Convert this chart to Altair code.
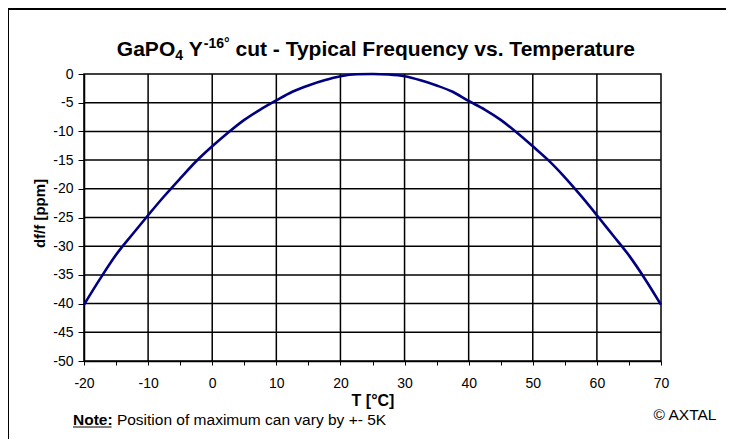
import altair as alt
import pandas as pd

# ---- data ----
temps = [-20, -17.5, -15, -12.5, -10, -7.5, -5, -2.5, 0, 2.5, 5, 7.5, 10, 12.5, 15, 17.5,
         20, 22.5, 25, 27.5, 30, 32.5, 35, 37.5, 40, 42.5, 45, 47.5, 50, 52.5, 55, 57.5,
         60, 62.5, 65, 67.5, 70]
dff = [-40.2, -35.7, -31.5, -28.0, -24.6, -21.3, -18.2, -15.2, -12.6, -10.2, -8.0, -6.2,
       -4.6, -3.1, -2.0, -1.1, -0.4, -0.05, 0.0, -0.1, -0.4, -1.1, -2.0, -3.1, -4.7, -6.2,
       -8.0, -10.2, -12.6, -15.1, -18.0, -21.2, -24.6, -28.1, -31.6, -35.7, -40.2]

x_ticks = [-20, -15, -10, -5, 0, 5, 10, 15, 20, 25, 30, 35, 40, 45, 50, 55, 60, 65, 70]
y_ticks = [0, -5, -10, -15, -20, -25, -30, -35, -40, -45, -50]
x_grid = [-10, 0, 10, 20, 30, 40, 50, 60]
y_grid = [-5, -10, -15, -20, -25, -30, -35, -40, -45]

title_parts = ["GaPO", "4", "Y", "-16°", "cut - Typical Frequency vs. Temperature"]
note_bold = "Note:"
note_text = "Position of maximum can vary by +- 5K"
credit = "© AXTAL"
x_title = "T [°C]"
y_title = "df/f [ppm]"

FONT = "Liberation Sans"
W, H = 577, 287

df = pd.DataFrame({"T": temps, "dff": dff})
xs = alt.Scale(domain=[-20, 70], nice=False, zero=False)
ys = alt.Scale(domain=[-50, 0], nice=False, zero=False)

x_axis = alt.Axis(
    values=x_ticks, labelExpr="datum.value % 10 === 0 ? '' + datum.value : ''",
    grid=False, tickSize=4, tickColor="black", tickWidth=1, domainColor="black", domainWidth=1.5,
    labelFont=FONT, labelFontSize=14, labelColor="black", labelPadding=11, labelFlush=False,
    labelOverlap=False, title=x_title, titleFont=FONT, titleFontSize=16, titleFontWeight="bold",
    titleColor="black", titleY=44, titleBaseline="alphabetic")
y_axis = alt.Axis(
    values=y_ticks, labelExpr="'' + datum.value",
    grid=False, tickSize=6, tickColor="black", tickWidth=1, domainColor="black", domainWidth=1.5,
    labelFont=FONT, labelFontSize=14, labelColor="black", labelPadding=5, labelFlush=False,
    labelOverlap=False, title=y_title, titleFont=FONT, titleFontSize=15, titleFontWeight="bold",
    titleColor="black", titleX=-45, titleY=139, titleBaseline="middle", titleAlign="center",
    titleAngle=270)

vgrid = alt.Chart(pd.DataFrame({"T": x_grid})).mark_rule(color="black", strokeWidth=1.5).encode(
    x=alt.X("T:Q", scale=xs, axis=x_axis))
hgrid = alt.Chart(pd.DataFrame({"dff": y_grid})).mark_rule(color="black", strokeWidth=1.5).encode(
    y=alt.Y("dff:Q", scale=ys, axis=y_axis))

curve = alt.Chart(df).mark_line(color="#000080", strokeWidth=2.6, interpolate="monotone").encode(
    x=alt.X("T:Q", scale=xs, axis=x_axis),
    y=alt.Y("dff:Q", scale=ys, axis=y_axis),
)

def txt(s, x, y, size, weight="normal", align="left", baseline="alphabetic"):
    return alt.Chart(pd.DataFrame({"s": [s]})).mark_text(
        font=FONT, fontSize=size, fontWeight=weight, color="black", align=align, baseline=baseline
    ).encode(text="s:N", x=alt.value(x), y=alt.value(y))

# title pieces (Arial bold em widths)
F, f2 = 21, 14
SP = 0.278
w1, wsub, w3, wsup = 2.779 * F, 0.556 * f2, 0.667 * F, 1.845 * f2
w5 = 19.451 * F - SP * F
total = w1 + wsub + SP * F + w3 + wsup + SP * F + w5
x0 = 293 - total / 2
ty = -18
p1 = x0
p2 = p1 + w1
p3 = p2 + wsub + SP * F
p4 = p3 + w3 + 1
p5 = p4 + wsup + SP * F
titles = [
    txt(title_parts[0], p1, ty, F, "bold"),
    txt(title_parts[1], p2, ty + 4, f2, "bold"),
    txt(title_parts[2], p3, ty, F, "bold"),
    txt(title_parts[3], p4, ty - 8, f2, "bold"),
    txt(title_parts[4], p5, ty, F, "bold"),
]

# note + credit
ns = 15.5
nx = 73 - 84
ny = 425 - 74
note_w = 2.555 * ns
notes = [
    txt(note_bold, nx, ny, ns, "bold"),
    txt(note_text, nx + note_w + SP * ns, ny, ns),
    txt(credit, 685 - 84, 420 - 74, 15.5, align="center"),
]
underline = alt.Chart(pd.DataFrame({"a": [0]})).mark_rule(color="black", strokeWidth=1).encode(
    x=alt.value(nx), x2=alt.value(nx + note_w - 1), y=alt.value(ny + 2))

# outer frame
frame_top = alt.Chart(pd.DataFrame({"a": [0]})).mark_rule(color="black", strokeWidth=2).encode(
    x=alt.value(-76), x2=alt.value(642), y=alt.value(-65))
frame_left = alt.Chart(pd.DataFrame({"a": [0]})).mark_rule(color="black", strokeWidth=2).encode(
    x=alt.value(-76), y=alt.value(-66), y2=alt.value(365))

chart = alt.layer(vgrid, hgrid, curve, *titles, *notes, underline, frame_top, frame_left).properties(
    width=W, height=H,
    autosize=alt.AutoSizeParams(type="none"),
    padding={"left": 76, "top": 66, "right": 65, "bottom": 78},
    background="white",
).configure_view(stroke="black", strokeWidth=1.5)

chart.save("out.html", embed_options={"renderer": "svg", "actions": False})
